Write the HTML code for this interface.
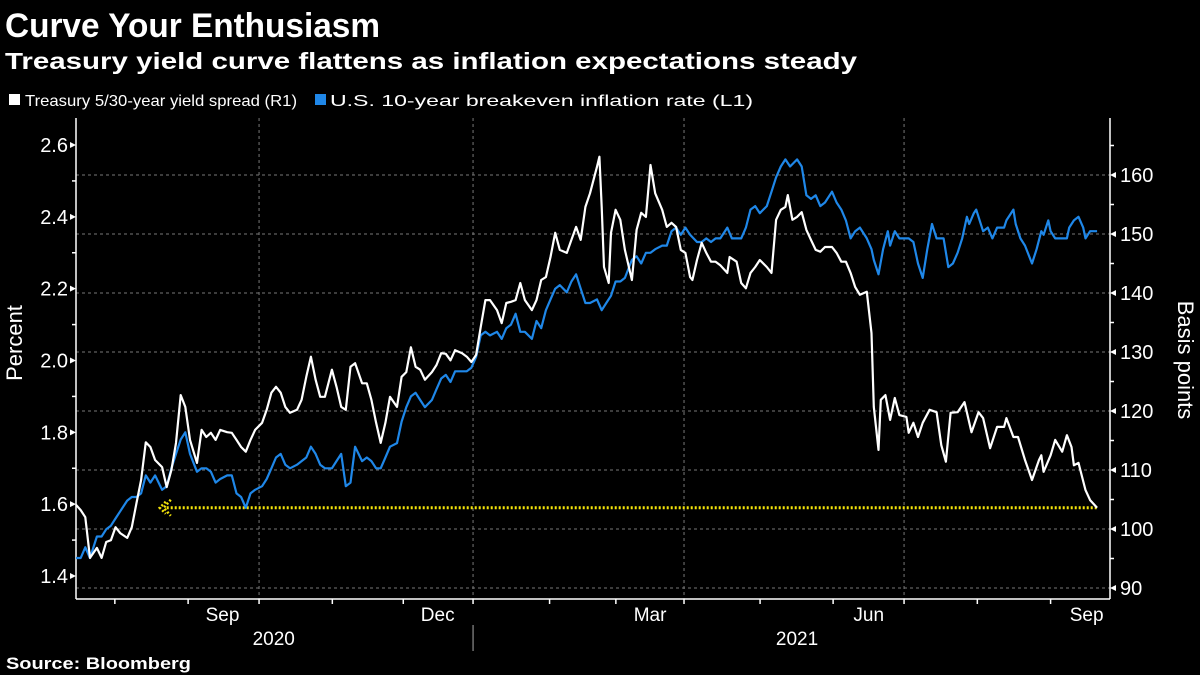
<!DOCTYPE html>
<html><head><meta charset="utf-8">
<style>
html,body{margin:0;padding:0;background:#000;}
svg{display:block;font-family:"Liberation Sans","DejaVu Sans",sans-serif;}
</style></head>
<body>
<svg id="chart" width="1200" height="675" viewBox="0 0 1200 675">
<rect width="1200" height="675" fill="#000"/>
<text x="5" y="37" font-size="34" font-weight="bold" fill="#fff" textLength="375" lengthAdjust="spacingAndGlyphs">Curve Your Enthusiasm</text>
<text x="5" y="69" font-size="23" font-weight="bold" fill="#fff" textLength="852" lengthAdjust="spacingAndGlyphs">Treasury yield curve flattens as inflation expectations steady</text>
<g>
<g>
<rect x="9" y="94" width="11" height="11" fill="#fff"/>
<text x="25" y="106" font-size="16" fill="#fff" textLength="272" lengthAdjust="spacingAndGlyphs">Treasury 5/30-year yield spread (R1)</text>
</g>
<g>
<rect x="315" y="94" width="11" height="11" fill="#1f87e8"/>
<text x="330" y="106" font-size="16" fill="#fff" textLength="423" lengthAdjust="spacingAndGlyphs">U.S. 10-year breakeven inflation rate (L1)</text>
</g>
</g>
<g id="grid"></g>
<g id="axes"></g>
<g id="series"></g>
<text x="0" y="0" transform="translate(22,343) rotate(-90)" text-anchor="middle" font-size="22" fill="#fff">Percent</text>
<text x="0" y="0" transform="translate(1178,360) rotate(90)" text-anchor="middle" font-size="22" fill="#fff">Basis points</text>
<text x="6" y="669" font-size="17" font-weight="bold" fill="#fff" textLength="185" lengthAdjust="spacingAndGlyphs">Source: Bloomberg</text>
</svg>
<script>
// Day offsets (from mid-July 2020) and values
const blueDays = [0,2,4,6,9,11,13,15,17,19,22,24,26,28,30,32,34,37,39,41,43,45,47,49,52,54,56,58,60,62,65,67,69,71,73,75,77,80,82,84,86,88,90,92,95,97,99,101,103,105,107,110,112,114,116,118,120,123,125,127,129,131,133,135,138,140,142,144,146,148,150,153,155,157,159,161,163,166,168,170,172,174,176,178,181,183,185,187,189,191,193,196,198,200,202,204,206,208,211,213,215,217,219,221,224,226,228,230,232,234,236,239,241,243,245,247,249,252,254,256,258,260,262,264,267,269,271,273,275,277,280,282,284,286,288,290,292,294,297,299,301,303,305,307,310,312,314,316,318,320,322,325,327,329,331,333,335,337,340,342,343,345,347,349,350,352,354,356,358,360,362,364,366,368,370,373,375,377,379,381,383,384,386,387,388,390,392,394,396,399,400,403,404,406,408,411,413,415,416,418,419,421,423,424,426,427,429,431,433,434,436,439];
const blueVals = [1.45,1.45,1.48,1.45,1.51,1.51,1.53,1.54,1.56,1.58,1.61,1.62,1.62,1.63,1.68,1.66,1.68,1.64,1.65,1.70,1.74,1.78,1.80,1.74,1.69,1.70,1.70,1.69,1.66,1.67,1.68,1.68,1.63,1.62,1.59,1.63,1.64,1.65,1.67,1.70,1.73,1.74,1.71,1.70,1.71,1.72,1.73,1.76,1.74,1.71,1.70,1.70,1.72,1.74,1.65,1.66,1.76,1.72,1.73,1.72,1.70,1.70,1.73,1.76,1.77,1.83,1.87,1.90,1.91,1.89,1.87,1.89,1.92,1.95,1.96,1.94,1.97,1.97,1.97,1.98,2.01,2.07,2.08,2.07,2.08,2.06,2.09,2.10,2.13,2.08,2.08,2.06,2.11,2.09,2.14,2.17,2.20,2.21,2.19,2.22,2.24,2.20,2.16,2.16,2.17,2.14,2.16,2.18,2.22,2.22,2.23,2.28,2.29,2.27,2.30,2.30,2.31,2.32,2.32,2.36,2.37,2.35,2.37,2.35,2.33,2.33,2.34,2.33,2.34,2.34,2.37,2.34,2.34,2.34,2.37,2.42,2.43,2.41,2.43,2.47,2.51,2.54,2.56,2.54,2.56,2.54,2.46,2.45,2.46,2.43,2.44,2.47,2.44,2.42,2.39,2.34,2.36,2.37,2.34,2.31,2.28,2.24,2.31,2.36,2.32,2.36,2.34,2.34,2.34,2.33,2.27,2.23,2.31,2.38,2.34,2.34,2.26,2.27,2.30,2.34,2.40,2.38,2.41,2.42,2.40,2.36,2.37,2.34,2.37,2.37,2.39,2.42,2.38,2.34,2.32,2.27,2.31,2.36,2.35,2.39,2.36,2.34,2.34,2.34,2.34,2.37,2.39,2.40,2.37,2.34,2.36,2.36];
const whiteDays = [0,2,4,6,9,11,13,15,17,19,22,24,26,28,30,32,34,37,39,41,43,45,47,49,52,54,56,58,60,62,65,67,69,71,73,75,77,80,82,84,86,88,90,92,95,97,99,101,103,105,107,110,112,114,116,118,120,123,125,127,129,131,133,135,138,140,142,144,146,148,150,153,155,157,159,161,163,166,168,170,172,174,176,178,181,183,185,187,189,191,193,196,198,200,202,204,206,208,211,213,215,217,219,221,224,225,226,227,229,230,232,234,236,239,241,243,245,247,249,252,254,256,258,260,262,264,265,267,269,271,273,275,277,280,281,284,286,288,290,292,294,297,299,301,303,305,306,308,310,312,314,316,318,320,322,325,327,329,331,333,335,337,340,342,343,345,346,348,350,352,354,357,358,360,362,364,367,370,372,374,376,379,382,385,388,390,393,396,399,400,403,405,408,411,414,415,416,419,421,424,426,428,429,431,434,436,439];
const whiteVals = [104.1,103.2,102.0,95.1,96.8,95.1,97.8,98.1,100.3,99.3,98.5,100.3,104.4,108.3,114.7,113.9,111.7,110.5,107.1,110.0,114.6,122.7,120.7,115.1,111.2,116.8,115.6,116.3,115.1,116.8,116.4,116.3,115.1,113.9,113.1,115.1,116.8,118.0,120.2,123.1,124.1,123.1,120.7,119.7,120.2,121.9,125.8,129.2,125.3,122.4,122.4,127.0,124.1,120.7,120.2,127.5,128.1,124.7,124.7,121.9,118.0,114.6,118.0,122.4,120.7,125.8,126.6,130.8,127.5,127.0,125.3,126.6,127.8,129.8,129.7,128.6,130.3,129.8,129.2,128.3,129.5,134.2,138.8,138.8,137.1,134.9,138.3,138.5,138.8,141.7,138.8,137.1,138.8,142.2,142.7,146.1,150.2,147.3,146.8,149.0,151.2,149.0,154.6,156.9,161.4,163.1,154.6,144.4,141.7,150.2,154.1,152.4,147.3,142.2,150.7,153.6,152.9,161.7,156.9,154.1,151.2,151.9,151.2,147.3,146.8,142.7,142.2,145.6,148.5,146.8,145.3,145.3,144.7,143.4,146.1,145.3,141.7,140.8,143.4,144.4,145.6,144.4,143.4,152.4,154.1,154.6,156.6,152.4,152.9,153.7,150.7,149.0,147.3,147.0,147.8,147.8,146.8,145.3,145.3,143.4,141.0,139.7,140.2,133.2,120.7,113.4,121.9,122.7,118.5,122.2,119.3,119.0,116.3,118.0,115.6,118.0,120.2,119.8,114.2,111.4,119.7,119.8,121.5,116.4,119.8,118.8,113.7,117.3,117.3,118.8,115.6,115.6,111.7,108.3,111.7,112.5,109.7,112.5,115.1,113.1,115.9,113.9,110.8,111.2,106.6,104.9,103.6];
const leftTicks = [1.4,1.6,1.8,2.0,2.2,2.4,2.6];
const rightTicks = [90,100,110,120,130,140,150,160];
const monthTickDays = [16.7,48.2,78.7,110.2,140.7,170.7,203.6,232.1,261.4,294.1,325.5,356,387.5,419];
const monthLabels = ["Sep","Dec","Mar","Jun","Sep"];
const monthLabelDays = [63,155.5,246.8,340.8,434.5];
const yearLabels = ["2020","2021"];
const yearLabelDays = [85,310];
const quarterGridDays = [78.7,170.7,261.4,356];

const NS = "http://www.w3.org/2000/svg";
const X0 = 76, DX = 2.326, PT = 118, PB = 599, PR = 1110;
const xS = d => X0 + d * DX;
const yL = v => 576 - (v - 1.4) * (431 / 1.2);
const yR = v => 588 - (v - 90) * 5.9;
function mk(tag, attrs, parent) {
  const e = document.createElementNS(NS, tag);
  for (const k in attrs) e.setAttribute(k, attrs[k]);
  parent.appendChild(e);
  return e;
}
const grid = document.getElementById('grid');
const axes = document.getElementById('axes');
const series = document.getElementById('series');

rightTicks.forEach(v => {
  const l = mk('line', {x1: X0, x2: PR, y1: yR(v), y2: yR(v), stroke: '#777', 'stroke-width': 1, 'stroke-dasharray': '3,3'}, grid);
  
  
});
quarterGridDays.forEach(d => {
  const l = mk('line', {x1: xS(d), x2: xS(d), y1: PT, y2: PB, stroke: '#777', 'stroke-width': 1, 'stroke-dasharray': '3,3'}, grid);
  
  
});

// axes lines
mk('line', {x1: X0, x2: X0, y1: PT, y2: PB, stroke: '#fff', 'stroke-width': 1.5}, axes);
mk('line', {x1: PR, x2: PR, y1: PT, y2: PB, stroke: '#fff', 'stroke-width': 1.5}, axes);
mk('line', {x1: X0, x2: PR, y1: PB, y2: PB, stroke: '#fff', 'stroke-width': 1.5}, axes);

leftTicks.forEach(v => {
  const y = yL(v);
  mk('path', {d: `M${X0} ${y} L${X0-6} ${y-3} L${X0-6} ${y+3}Z`, fill: '#fff'}, axes);
  const t = mk('text', {x: X0 - 8, y: y + 7, 'text-anchor': 'end', 'font-size': 20, fill: '#fff'}, axes);
  t.textContent = v.toFixed(1);
  
  
  const ym = yL(v + 0.1);
  if (v < 2.6) mk('line', {x1: X0 - 4, x2: X0, y1: ym, y2: ym, stroke: '#fff', 'stroke-width': 1.5}, axes);
});
rightTicks.forEach(v => {
  const y = yR(v);
  mk('path', {d: `M${PR} ${y} L${PR+6} ${y-3} L${PR+6} ${y+3}Z`, fill: '#fff'}, axes);
  const t = mk('text', {x: PR + 10, y: y + 7, 'font-size': 20, fill: '#fff'}, axes);
  t.textContent = v;
  
  
  const ym = yR(v + 5);
  mk('line', {x1: PR, x2: PR + 4, y1: ym, y2: ym, stroke: '#fff', 'stroke-width': 1.5}, axes);
});
monthTickDays.forEach(d => {
  mk('line', {x1: xS(d), x2: xS(d), y1: PB, y2: PB + 5, stroke: '#fff', 'stroke-width': 1.5}, axes);
});
monthLabels.forEach((m, i) => {
  const t = mk('text', {x: xS(monthLabelDays[i]), y: 621, 'text-anchor': 'middle', 'font-size': 19, fill: '#fff'}, axes);
  t.textContent = m;
  
  
});
yearLabels.forEach((m, i) => {
  const t = mk('text', {x: xS(yearLabelDays[i]), y: 645, 'text-anchor': 'middle', 'font-size': 19, fill: '#fff'}, axes);
  t.textContent = m;
  
  
});
mk('line', {x1: xS(170.7), x2: xS(170.7), y1: 625, y2: 651, stroke: '#aaa', 'stroke-width': 1}, axes);

// yellow reference line at last spread value
const lastW = whiteVals[whiteVals.length - 1];
const yy = yR(lastW);
const ref = mk('line', {x1: xS(39), x2: xS(whiteDays[whiteDays.length-1]), y1: yy, y2: yy, stroke: '#f5e50a', 'stroke-width': 3, 'stroke-dasharray': '2,2'}, series);


const arr = mk('g', {stroke: '#f5e50a', 'stroke-width': 2.5, fill: 'none', 'stroke-dasharray': '2,2'}, series);


const ax = xS(36);
mk('path', {d: `M${ax+6} ${yy-6} L${ax} ${yy} L${ax+6} ${yy+6}`}, arr);
mk('path', {d: `M${ax+11} ${yy-8} L${ax+4} ${yy} L${ax+11} ${yy+8}`}, arr);

function linePath(days, vals, ys) {
  return days.map((d, i) => (i ? 'L' : 'M') + xS(d).toFixed(1) + ' ' + ys(vals[i]).toFixed(1)).join(' ');
}
const bl = mk('path', {d: linePath(blueDays, blueVals, yL), stroke: '#1f87e8', 'stroke-width': 2.2, fill: 'none', 'stroke-linejoin': 'round'}, series);


const wl = mk('path', {d: linePath(whiteDays, whiteVals, yR), stroke: '#fff', 'stroke-width': 2.2, fill: 'none', 'stroke-linejoin': 'round'}, series);


</script>
</body></html>
